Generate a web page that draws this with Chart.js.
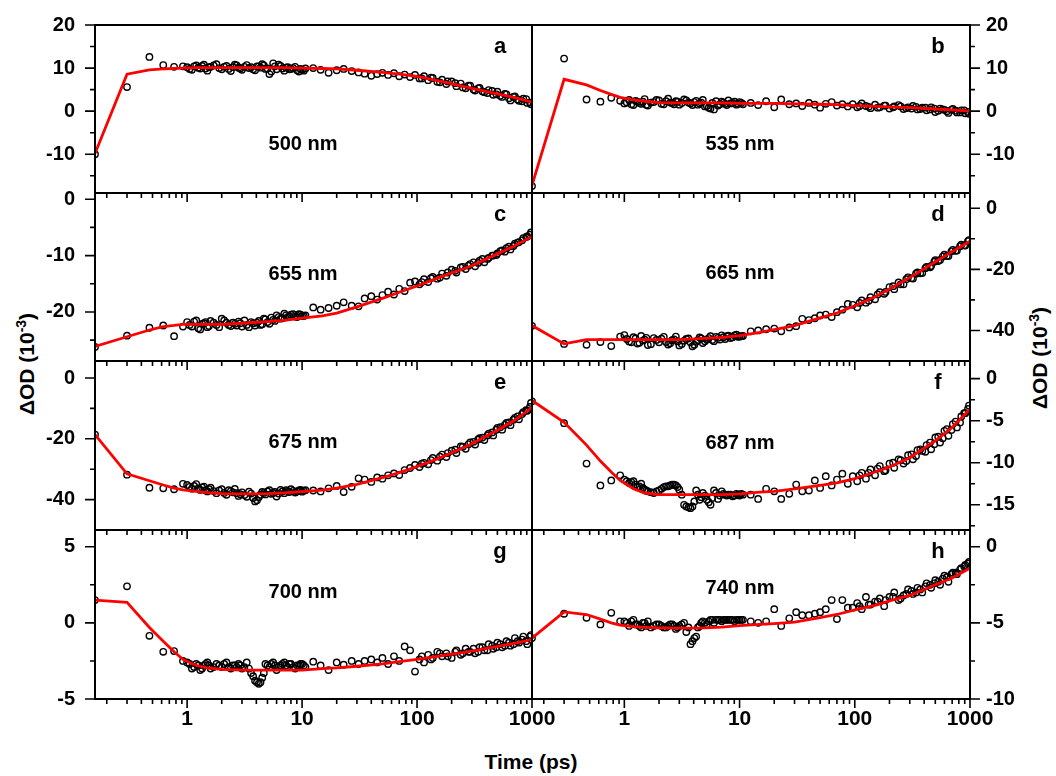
<!DOCTYPE html>
<html>
<head>
<meta charset="utf-8">
<script src="https://cdn.jsdelivr.net/npm/chart.js@4.4.1/dist/chart.umd.min.js"></script>
<style>
  body { margin: 0; background: #fff; }
  #wrap { position: relative; width: 1056px; height: 776px; font-family: "Liberation Sans", Arial, sans-serif; font-weight: bold; color: #000; }
  canvas { position: absolute; left: 0; top: 0; }
  .title { position: absolute; white-space: nowrap; font-size: 21px; transform: translate(-50%, -50%); }
  .title.v { transform: translate(-50%, -50%) rotate(-90deg); }
  .title sup { font-size: 14px; vertical-align: 8px; line-height: 0; }
</style>
</head>
<body>
<div id="wrap">
  <div class="title v" style="left:27px; top:364px">&Delta;OD (10<sup>-3</sup>)</div>
  <div class="title v" style="left:1040px; top:358px">&Delta;OD (10<sup>-3</sup>)</div>
  <div class="title" style="left:531px; top:762px">Time (ps)</div>
</div>
<script>
// time axis of the measured points (ps)
const TIMES = [0.158, 0.3, 0.47, 0.62, 0.77, 0.92,
  1.0, 1.1, 1.2, 1.3, 1.4, 1.5, 1.6, 1.8, 2.0, 2.2, 2.4, 2.6, 2.8, 3.0, 3.3, 3.6, 3.9, 4.2, 4.5, 4.8,
  5.2, 5.6, 6.0, 6.5, 7.0, 7.5, 8.0, 8.7, 9.4, 10.0, 10.7,
  12.5, 14.5, 17, 20, 23, 27, 31, 35, 40, 45, 50, 56, 63, 70, 78, 87,
  96, 105, 115, 125, 137, 150, 165, 180, 200, 220, 240, 265, 290, 320, 350, 385, 420, 460, 500,
  550, 600, 650, 710, 770, 840, 910, 980];
// second, interleaved set of points in the dense stretches (ps)
const EXTRA_TIMES = [1.05, 1.15, 1.25, 1.35, 1.45, 1.55, 1.7, 1.9, 2.1, 2.3, 2.5, 2.7, 2.9, 3.15, 3.45,
  3.75, 4.05, 4.35, 4.65, 5.0, 5.4, 5.8, 6.25, 6.75, 7.25, 7.75, 8.35, 9.05, 9.7, 10.35,
  110, 132, 158, 185, 215, 250, 280, 310, 340, 370, 410, 450, 490, 530, 580, 630, 690, 750, 820, 890, 960];
// time axis of the fitted curves (ps)
const FIT_TIMES = [0.158, 0.3, 0.47, 0.62, 0.77, 0.92, 1.2, 1.5, 2, 3, 5, 7, 10, 15, 20, 30, 50, 70, 100, 150, 200, 300, 500, 700, 1000];

// dOD (10^-3), measured
const A_DATA = [-10.0, 5.6, 12.6, 10.7, 10.3, 10.4,
  10.2, 9.6, 10.6, 9.9, 10.8, 9.4, 10.3, 10.9, 9.7, 10.5, 9.3, 10.8, 10.1, 9.6, 10.7, 10.2, 9.5, 10.4, 10.9, 9.8,
  8.6, 11.1, 9.7, 10.5, 9.4, 10.2, 9.8, 10.3, 9.2, 9.6, 9.9,
  10.0, 9.6, 8.9, 9.5, 9.8, 9.3, 9.0, 8.7, 8.2, 8.6, 8.9, 8.4, 8.8, 8.1, 8.5, 7.9,
  8.4, 7.6, 8.1, 7.2, 7.7, 6.8, 7.3, 6.3, 6.9, 5.8, 6.4, 5.3, 5.9, 4.8, 5.4, 4.4, 4.9, 3.8, 4.5,
  3.3, 3.9, 2.5, 3.4, 2.4, 2.9, 1.9, 1.6];
const B_DATA = [-17.4, 12.2, 2.7, 2.2, 3.1, 2.4,
  1.8, 2.6, 1.4, 2.2, 1.7, 2.8, 1.3, 2.1, 2.5, 1.6, 2.9, 1.9, 2.3, 1.5, 2.7, 2.0, 1.4, 2.4, 1.8, 2.6,
  1.2, 0.6, 0.4, 1.3, 2.2, 1.7, 2.5, 1.9, 1.5, 2.1, 1.6,
  1.9, 1.4, 2.3, 0.9, 2.7, 1.6, 1.8, 1.2, 1.9, 1.5, 0.8, 1.7, 2.1, 1.3, 1.6, 1.1,
  1.6, 0.9, 1.8, 1.2, 0.7, 1.5, 0.9, 1.3, 0.6, 1.1, 1.4, 0.5, 0.9, 1.2, 0.4, 0.8, 0.2, 0.9, -0.2,
  0.6, 0.3, -0.4, 0.5, -0.3, 0.2, -0.5, -0.6];
const C_DATA = [-26.2, -24.2, -22.8, -22.4, -24.3, -22.6,
  -21.8, -22.6, -21.5, -23.1, -22.0, -22.7, -21.6, -22.3, -21.2, -21.9, -22.5, -22.1, -21.7, -22.6, -22.3, -21.8, -22.4, -21.6, -22.2, -21.3,
  -22.1, -21.4, -20.6, -21.2, -20.3, -20.9, -20.5, -20.8, -20.4, -20.7, -20.6,
  -19.2, -19.6, -19.3, -18.9, -18.3, -18.9, -19.0, -17.6, -17.2, -17.8, -17.0, -16.4, -16.9, -15.9, -16.3, -14.8,
  -14.6, -15.1, -14.2, -14.7, -13.8, -14.1, -13.2, -13.6, -12.5, -13.0, -12.1, -12.4, -11.5, -11.9, -10.9, -11.2, -10.4, -10.0, -9.6,
  -9.1, -8.7, -8.9, -7.9, -7.6, -6.9, -6.6, -5.9];
const D_DATA = [-38.5, -44.4, -44.7, -43.8, -45.1, -42.0,
  -41.5, -43.6, -42.2, -44.3, -41.8, -43.0, -44.8, -42.5, -43.9, -42.1, -44.6, -43.2, -42.0, -44.9, -43.4, -42.6, -45.2, -43.7, -42.3, -44.1,
  -43.0, -41.9, -43.5, -42.4, -41.6, -42.8, -41.7, -42.2, -41.4, -42.0, -41.8,
  -40.3, -40.0, -39.6, -39.4, -40.3, -39.0, -38.6, -36.2, -36.6, -36.0, -35.1, -34.8, -35.6, -34.0, -33.2, -31.3,
  -31.6, -32.4, -30.2, -30.9, -29.1, -29.8, -27.5, -28.0, -25.8, -26.5, -24.3, -24.9, -22.6, -23.0, -21.0, -21.2, -19.2, -18.9, -17.0,
  -16.9, -15.2, -15.6, -13.6, -13.8, -11.9, -12.2, -10.4];
const E_DATA = [-18.6, -31.8, -36.1, -36.3, -36.6, -34.8,
  -35.2, -36.4, -34.9, -36.8, -35.7, -37.3, -36.1, -37.9, -36.6, -38.4, -37.2, -36.5, -38.8, -37.6, -39.1, -38.0, -40.6, -39.2, -37.5, -38.3,
  -36.9, -37.8, -39.0, -36.8, -37.9, -37.2, -36.6, -37.7, -37.0, -37.4, -36.9,
  -37.0, -37.3, -36.3, -35.5, -37.5, -35.8, -33.0, -33.4, -34.2, -32.7, -33.1, -32.0, -31.4, -31.9, -30.3, -29.6,
  -28.6, -29.3, -27.9, -28.4, -26.3, -27.2, -25.2, -26.0, -23.9, -24.7, -22.5, -23.3, -21.2, -21.9, -19.8, -20.4, -18.3, -18.9, -16.4,
  -17.0, -14.8, -15.5, -13.1, -13.6, -11.2, -10.8, -8.2];
const F_DATA = [-2.7, -5.3, -10.1, -12.7, -12.1, -11.5,
  -12.0, -12.4, -12.2, -12.9, -12.5, -13.2, -13.4, -13.6, -13.3, -12.9, -12.8, -12.6, -12.7, -13.2, -15.0, -15.3, -15.2, -13.3, -14.4, -13.6,
  -14.4, -15.0, -13.3, -14.3, -13.4, -13.8, -13.8, -14.0, -13.7, -13.9, -13.8,
  -13.8, -14.3, -13.1, -13.4, -14.3, -13.7, -12.6, -13.4, -13.3, -12.1, -13.0, -11.6, -12.7, -12.0, -11.3, -12.5,
  -11.6, -12.2, -11.2, -11.9, -10.8, -11.5, -10.4, -11.0, -10.1, -10.6, -9.6, -10.1, -9.1, -9.6, -8.5, -8.6, -7.9, -8.4, -7.0,
  -7.6, -6.2, -6.8, -5.4, -5.8, -4.5, -4.1, -3.2];
const G_DATA = [1.5, 2.4, -0.85, -1.9, -1.85, -2.5,
  -2.6, -3.0, -2.7, -3.1, -2.8, -2.6, -3.0, -2.7, -2.9, -2.6, -3.0, -2.8, -2.7, -3.0, -2.6, -3.3, -3.8, -4.0, -3.6, -2.7,
  -2.9, -2.6, -3.1, -2.8, -2.6, -2.9, -2.7, -3.0, -2.8, -2.7, -2.9,
  -2.55, -2.8, -3.1, -2.6, -2.75, -2.5, -2.7, -2.5, -2.4, -2.6, -2.3, -2.7, -2.2, -2.5, -1.55, -1.8,
  -3.2, -2.4, -2.6, -2.1, -2.3, -1.9, -2.2, -2.0, -2.3, -1.8, -2.1, -1.7, -1.9, -2.0, -1.6, -1.8, -1.4, -1.7, -1.3,
  -1.6, -1.2, -1.5, -1.0, -1.3, -0.9, -1.4, -0.8];
const H_DATA = [-6.0, -4.4, -4.67, -5.1, -4.34, -4.9,
  -4.9, -5.2, -4.8, -5.1, -5.3, -5.0, -4.9, -5.2, -5.1, -5.3, -5.2, -5.1, -5.4, -5.2, -5.0, -5.3, -6.2, -5.9, -5.2, -4.9,
  -5.1, -4.8, -5.0, -4.8, -4.9, -4.8, -4.8, -4.8, -4.8, -4.8, -4.8,
  -4.9, -5.0, -4.9, -4.1, -5.2, -4.7, -4.3, -4.5, -4.5, -4.4, -4.3, -4.1, -3.5, -4.75, -3.5, -4.0,
  -4.0, -3.7, -4.1, -3.3, -3.8, -3.6, -3.4, -3.9, -3.3, -3.0, -3.5, -3.2, -2.8, -3.1, -2.7, -3.0, -2.4, -2.7, -2.2,
  -2.5, -1.9, -2.3, -1.7, -1.8, -1.4, -1.2, -1.0];

// dOD (10^-3), measured, at EXTRA_TIMES
const A_EXTRA = [9.8, 10.4, 10.1, 10.5, 9.9, 10.2, 10.6, 10.0, 10.3, 9.8, 10.2, 10.6, 9.9, 10.3, 10.0,
  9.7, 10.4, 10.1, 10.6, 9.9, 9.2, 10.4, 10.8, 9.9, 10.1, 9.7, 10.0, 9.5, 9.8, 9.4,
  7.6, 7.8, 6.7, 6.9, 6.5, 5.5, 5.9, 5.0, 5.3, 4.6, 4.2, 4.7, 3.9, 3.6, 4.0, 3.0, 3.3, 2.7, 2.3, 2.8, 2.0];
const B_EXTRA = [2.0, 1.6, 2.4, 1.9, 2.2, 1.5, 2.0, 2.6, 1.7, 2.3, 2.0, 1.6, 2.2, 1.9, 2.5,
  1.8, 2.1, 1.5, 2.0, 1.1, 0.8, 1.9, 2.3, 1.6, 2.0, 1.4, 1.8, 2.2, 1.7, 1.9,
  1.2, 1.0, 0.8, 1.3, 0.9, 1.1, 0.7, 0.6, 1.0, 0.5, 0.8, 0.4, 0.6, 0.1, 0.4, 0.0, 0.3, 0.1, -0.3, 0.2, -0.2];
const C_EXTRA = [-22.3, -21.7, -22.9, -22.1, -21.8, -22.5, -21.9, -22.7, -21.5, -22.3, -21.9, -22.4, -22.0, -21.5, -22.7,
  -22.0, -21.9, -22.3, -21.2, -21.8, -21.0, -21.6, -20.9, -21.1, -20.6, -20.8, -20.4, -20.9, -20.5, -20.7,
  -14.7, -14.0, -13.9, -13.0, -12.7, -12.0, -11.8, -11.2, -11.3, -10.6, -10.6, -10.0, -9.9, -9.2, -9.3, -8.4, -8.3, -7.7, -7.3, -6.7, -6.3];
const D_EXTRA = [-42.8, -43.9, -42.6, -44.0, -43.3, -42.4, -44.5, -43.1, -42.7, -43.8, -44.2, -42.9, -43.6, -44.4, -42.8,
  -43.9, -44.7, -43.2, -42.6, -43.5, -42.5, -43.1, -42.1, -43.0, -42.2, -41.9, -42.5, -41.6, -42.1, -41.9,
  -31.0, -30.3, -28.2, -27.4, -25.5, -24.9, -23.2, -22.9, -21.4, -21.3, -19.6, -19.3, -17.5, -17.3, -15.8, -15.6, -14.1, -13.9, -12.4, -12.1, -10.8];
const E_EXTRA = [-35.8, -35.5, -36.3, -36.0, -36.9, -36.6, -37.2, -37.0, -37.8, -36.9, -37.6, -37.9, -38.2, -38.5, -37.4,
  -39.5, -40.2, -38.4, -37.8, -37.3, -38.1, -37.5, -38.0, -37.3, -36.9, -37.5, -37.1, -37.3, -36.8, -37.1,
  -28.2, -27.0, -25.9, -24.7, -23.6, -22.6, -21.8, -21.0, -20.2, -19.6, -18.9, -17.9, -17.0, -16.2, -15.4, -14.6, -13.7, -12.6, -11.8, -10.6, -9.5];
const F_EXTRA = [-12.2, -12.3, -12.6, -12.8, -13.0, -13.3, -13.5, -13.4, -13.1, -12.8, -12.7, -12.6, -12.9, -13.8, -15.2,
  -15.4, -14.6, -13.8, -14.1, -13.9, -14.7, -14.2, -13.6, -13.9, -13.7, -13.9, -13.8, -13.9, -13.8, -13.7,
  -11.5, -11.2, -10.7, -10.9, -10.0, -9.7, -9.8, -9.0, -9.2, -8.4, -8.7, -7.6, -7.8, -6.9, -7.1, -6.0, -6.1, -5.1, -5.2, -4.1, -3.6];
const G_EXTRA = [-2.7, -2.9, -2.8, -3.0, -2.7, -2.8, -2.9, -2.8, -2.7, -2.9, -2.8, -2.9, -2.8, -2.9, -3.0,
  -3.5, -3.9, -3.9, -3.3, -2.8, -2.7, -2.8, -2.9, -2.7, -2.8, -2.7, -2.9, -2.8, -2.7, -2.8,
  -2.2, -2.4, -2.0, -2.2, -1.9, -2.0, -1.9, -1.7, -1.9, -1.6, -1.8, -1.5, -1.6, -1.4, -1.5, -1.3, -1.4, -1.2, -1.1, -1.2, -0.9];
const H_EXTRA = [-5.0, -4.9, -5.1, -5.2, -5.0, -5.2, -5.3, -5.1, -5.2, -5.3, -5.1, -5.2, -5.3, -5.1, -5.6,
  -6.4, -6.0, -5.3, -5.0, -5.0, -4.9, -4.8, -4.8, -4.8, -4.8, -4.8, -4.8, -4.9, -4.8, -4.8,
  -3.9, -3.8, -3.6, -3.5, -3.3, -3.4, -3.1, -2.9, -3.0, -2.8, -2.6, -2.5, -2.4, -2.3, -2.1, -2.0, -1.8, -1.7, -1.5, -1.3, -1.1];

// dOD (10^-3), fitted
const A_FIT = [-9.8, 8.6, 9.6, 9.8, 9.9, 10.0, 10.1, 10.1, 10.1, 10.1, 10.1, 10.1, 10.0, 9.9, 9.8, 9.5, 9.0, 8.6, 8.1, 7.1, 6.4, 5.3, 4.0, 3.2, 2.1];
const B_FIT = [-17.2, 7.4, 6.1, 4.8, 3.9, 3.2, 2.6, 2.3, 2.0, 1.9, 1.9, 1.9, 1.8, 1.8, 1.8, 1.7, 1.6, 1.5, 1.3, 1.1, 1.0, 0.8, 0.5, 0.3, 0.0];
const C_FIT = [-26.1, -24.4, -23.2, -22.6, -22.4, -22.2, -22.2, -22.2, -22.2, -22.0, -21.7, -21.5, -21.1, -20.7, -20.2, -19.1, -17.6, -16.5, -15.4, -14.0, -13.1, -11.8, -9.7, -8.3, -6.6];
const D_FIT = [-38.4, -44.4, -43.0, -43.0, -43.0, -43.0, -43.0, -43.0, -43.0, -43.0, -42.6, -42.3, -41.7, -40.6, -39.7, -38.4, -35.9, -34.3, -31.9, -29.0, -26.4, -22.7, -17.5, -14.2, -10.8];
const E_FIT = [-18.6, -31.5, -33.8, -35.2, -36.2, -36.8, -37.3, -37.7, -38.0, -38.1, -38.0, -37.8, -37.4, -36.9, -36.2, -35.0, -32.8, -31.1, -29.1, -26.6, -24.6, -21.6, -17.2, -14.0, -9.7];
const F_FIT = [-2.6, -5.2, -7.9, -9.8, -11.1, -12.1, -13.1, -13.6, -13.8, -13.8, -13.8, -13.8, -13.7, -13.5, -13.4, -13.1, -12.7, -12.4, -11.9, -11.1, -10.5, -9.4, -7.4, -5.8, -3.6];
const G_FIT = [1.5, 1.35, -0.3, -1.2, -1.9, -2.4, -2.8, -2.95, -3.05, -3.1, -3.1, -3.1, -3.1, -3.0, -2.95, -2.85, -2.7, -2.55, -2.4, -2.2, -2.05, -1.85, -1.55, -1.35, -1.1];
const H_FIT = [-6.0, -4.28, -4.45, -4.75, -5.0, -5.15, -5.25, -5.3, -5.33, -5.35, -5.33, -5.28, -5.18, -5.1, -5.05, -4.95, -4.65, -4.45, -4.15, -3.85, -3.55, -3.2, -2.5, -2.05, -1.4];

const X_LABELS = [1, 10, 100, 1000];
const WAVELENGTHS = ['500 nm', '535 nm', '655 nm', '665 nm', '675 nm', '687 nm', '700 nm', '740 nm'];
const LETTERS = ['a', 'b', 'c', 'd', 'e', 'f', 'g', 'h'];

// panel geometry (page pixels)
const COL_X = [[95, 532], [532, 970]];
const ROW_Y = [[25, 193], [193, 361], [361, 530], [530, 699]];

const panels = [
  { data: A_DATA, extra: A_EXTRA, fit: A_FIT, min: -19, max: 20, major: [20, 10, 0, -10], minor: [15, 5, -5, -15], nameDy: 119 },
  { data: B_DATA, extra: B_EXTRA, fit: B_FIT, min: -19, max: 20, major: [20, 10, 0, -10], minor: [15, 5, -5, -15], nameDy: 119 },
  { data: C_DATA, extra: C_EXTRA, fit: C_FIT, min: -28.7, max: 1.1, major: [0, -10, -20], minor: [-5, -15, -25], nameDy: 81 },
  { data: D_DATA, extra: D_EXTRA, fit: D_FIT, min: -50, max: 5, major: [0, -20, -40], minor: [-10, -30], nameDy: 80 },
  { data: E_DATA, extra: E_EXTRA, fit: E_FIT, min: -50, max: 5.6, major: [0, -20, -40], minor: [-10, -30], nameDy: 81 },
  { data: F_DATA, extra: F_EXTRA, fit: F_FIT, min: -18, max: 2.1, major: [0, -5, -10, -15], minor: [-2.5, -7.5, -12.5, -17.5], nameDy: 82 },
  { data: G_DATA, extra: G_EXTRA, fit: G_FIT, min: -5, max: 6.1, major: [5, 0, -5], minor: [2.5, -2.5], nameDy: 62 },
  { data: H_DATA, extra: H_EXTRA, fit: H_FIT, min: -10, max: 1.1, major: [0, -5, -10], minor: [-2.5, -7.5], nameDy: 58 }
];

const FONT = '"Liberation Sans", Arial, sans-serif';
Chart.defaults.color = '#000';
Chart.defaults.font.family = FONT;
Chart.defaults.font.weight = 'bold';

// minor ticks on the log axis
const xMinor = [];
[0.1, 1, 10, 100].forEach(d => { for (let k = 2; k <= 9; k++) xMinor.push(k * d); });

// frame, tick marks, panel texts
const framePlugin = {
  id: 'frame',
  afterDraw(chart, args, o) {
    const { ctx, chartArea: a, scales: { x, y } } = chart;
    const L = Math.round(a.left), R = Math.round(a.right), T = Math.round(a.top), B = Math.round(a.bottom);
    ctx.save();
    ctx.strokeStyle = '#000';
    ctx.lineWidth = 2;
    ctx.beginPath();
    ctx.moveTo(L, T); ctx.lineTo(R, T); ctx.lineTo(R, B); ctx.lineTo(L, B); ctx.closePath();
    ctx.stroke();
    ctx.lineWidth = 1.6;
    ctx.beginPath();
    X_LABELS.forEach(t => { const p = x.getPixelForValue(t); ctx.moveTo(p, B); ctx.lineTo(p, B + 9); });
    xMinor.forEach(t => {
      if (t < x.min) return;
      const p = x.getPixelForValue(t); ctx.moveTo(p, B); ctx.lineTo(p, B + 5);
    });
    const x0 = o.right ? R : L;
    const dir = o.right ? 1 : -1;
    o.major.forEach(v => { const p = y.getPixelForValue(v); ctx.moveTo(x0, p); ctx.lineTo(x0 + dir * 10, p); });
    o.minor.forEach(v => { const p = y.getPixelForValue(v); ctx.moveTo(x0, p); ctx.lineTo(x0 + dir * 5, p); });
    ctx.stroke();
    ctx.fillStyle = '#000';
    ctx.textAlign = 'center';
    ctx.textBaseline = 'middle';
    ctx.font = 'bold 20px ' + FONT;
    ctx.fillText(o.name, L + 208, T + o.nameDy);
    ctx.font = 'bold 22px ' + FONT;
    ctx.fillText(o.letter, R - 32, T + 22);
    ctx.restore();
  }
};

const wrap = document.getElementById('wrap');
panels.forEach((p, i) => {
  const col = i % 2, row = Math.floor(i / 2);
  const [left, right] = COL_X[col];
  const [top, bottom] = ROW_Y[row];
  const last = row === 3;
  const xh = last ? 40 : 0;
  const cv = document.createElement('canvas');
  cv.width = 1056; cv.height = 776;
  wrap.appendChild(cv);

  const points = TIMES.map((t, k) => ({ x: t, y: p.data[k] }))
    .concat(EXTRA_TIMES.map((t, k) => ({ x: t, y: p.extra[k] })));

  new Chart(cv, {
    type: 'scatter',
    data: {
      datasets: [{
        type: 'line',
        data: FIT_TIMES.map((t, k) => ({ x: t, y: p.fit[k] })),
        borderColor: 'rgb(255, 0, 0)',
        borderWidth: 2.8,
        pointRadius: 0,
        showLine: true,
        order: 0
      }, {
        data: points,
        pointStyle: 'circle',
        pointRadius: 3.2,
        borderColor: '#000',
        borderWidth: 1.4,
        backgroundColor: 'rgba(0,0,0,0)',
        order: 1
      }]
    },
    options: {
      responsive: false,
      animation: false,
      devicePixelRatio: 1,
      layout: {
        padding: {
          left: col === 0 ? 0 : left,
          right: col === 0 ? 1056 - right : 0,
          top: top,
          bottom: 776 - bottom - xh
        }
      },
      plugins: {
        legend: { display: false },
        tooltip: { enabled: false },
        frame: { major: p.major, minor: p.minor, right: col === 1, name: WAVELENGTHS[i], letter: LETTERS[i], nameDy: p.nameDy }
      },
      scales: {
        x: {
          type: 'logarithmic',
          min: 0.158, max: 1000,
          grid: { display: false, drawTicks: false },
          border: { display: false },
          ticks: {
            display: last,
            autoSkip: false,
            maxRotation: 0,
            padding: 8,
            font: { size: 21, weight: 'bold' },
            callback: v => X_LABELS.includes(v) ? String(v) : ''
          },
          afterFit: s => { s.height = xh; s.paddingLeft = 0; s.paddingRight = 0; }
        },
        y: {
          type: 'linear',
          position: col === 0 ? 'left' : 'right',
          min: p.min, max: p.max,
          grid: { display: false, drawTicks: false },
          border: { display: false },
          afterBuildTicks: s => { s.ticks = p.major.map(v => ({ value: v })); },
          ticks: {
            padding: col === 0 ? 20 : 16,
            font: { size: 20, weight: 'bold' },
            callback: v => String(v)
          },
          afterFit: s => { s.width = col === 0 ? left : 1056 - right; s.paddingTop = 0; s.paddingBottom = 0; }
        }
      }
    },
    plugins: [framePlugin]
  });
});
</script>
</body>
</html>
